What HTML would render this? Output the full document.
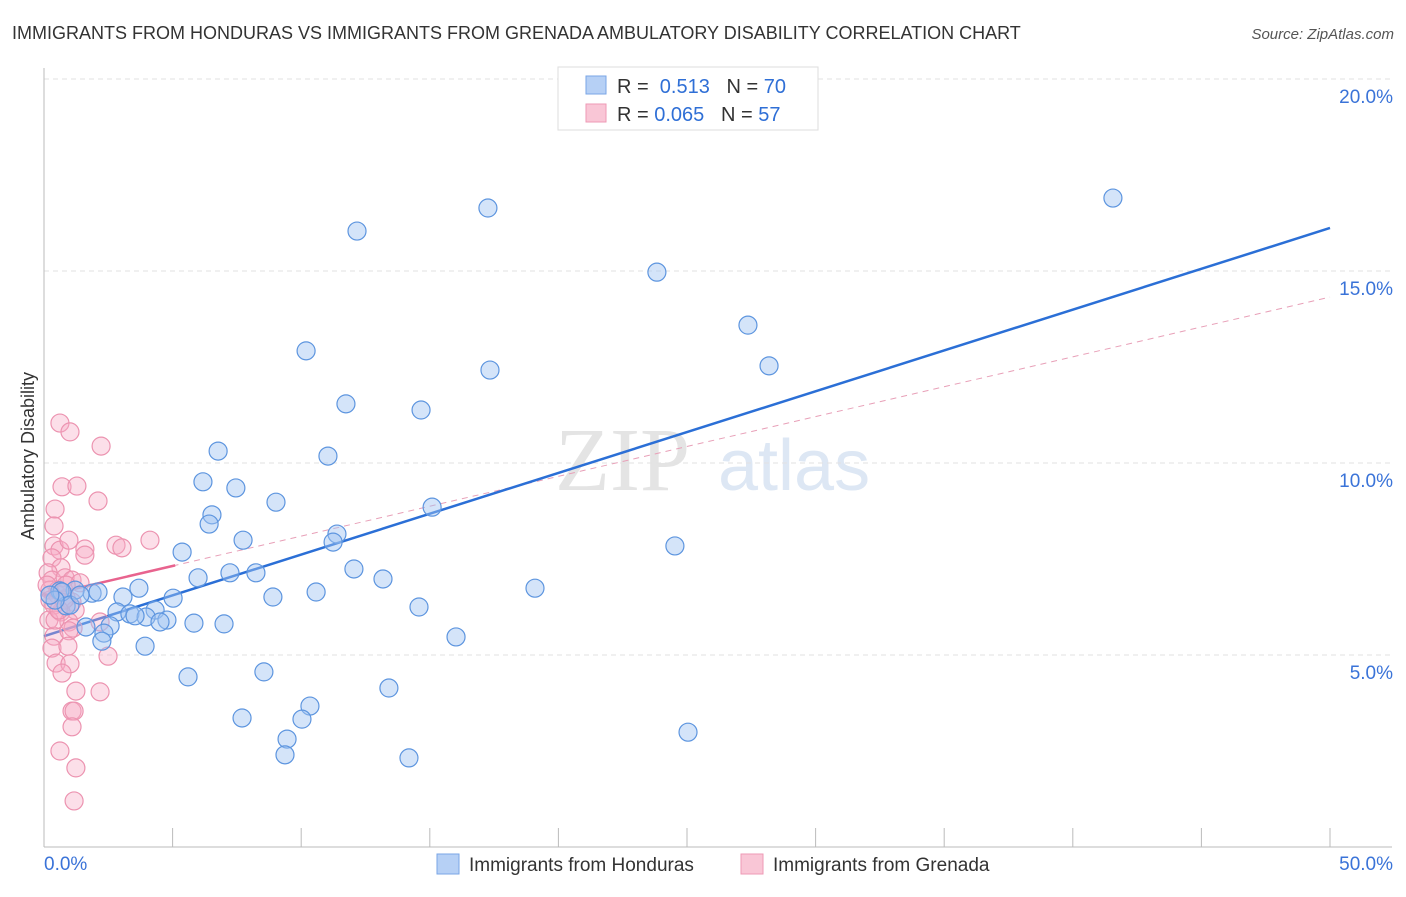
<!DOCTYPE html>
<html><head><meta charset="utf-8"><style>
body{margin:0;background:#fff;font-family:"Liberation Sans",sans-serif}
</style></head><body>
<svg id="chart" width="1406" height="892" xmlns="http://www.w3.org/2000/svg" font-family="Liberation Sans, sans-serif">
<text x="12" y="39" font-size="18" fill="#333">IMMIGRANTS FROM HONDURAS VS IMMIGRANTS FROM GRENADA AMBULATORY DISABILITY CORRELATION CHART</text>
<text x="1394" y="39" font-size="15" fill="#555" font-style="italic" text-anchor="end">Source: ZipAtlas.com</text>
<g><text x="555" y="490" font-size="90" fill="#e4e4e4" font-family="Liberation Serif, serif">ZIP</text><text x="718" y="490" font-size="72" fill="#dde7f4">atlas</text></g>
<g id="grid"></g><g id="axes"></g><g id="trends"></g><g id="pts"></g>
<text transform="translate(34,456) rotate(-90)" font-size="18" fill="#333" text-anchor="middle">Ambulatory Disability</text>
<g>
<rect x="558" y="67" width="260" height="63" fill="#fff" stroke="#ddd"/>
<rect x="586" y="76" width="20" height="18" fill="#b6d0f5" stroke="#7aa6e6"/>
<rect x="586" y="104" width="20" height="18" fill="#f9c6d6" stroke="#ee9ab5"/>
<text x="617" y="93" font-size="20" fill="#333">R = <tspan fill="#2f6fd6">&#160;0.513</tspan>&#160;&#160;&#160;N = <tspan fill="#2f6fd6">70</tspan></text>
<text x="617" y="121" font-size="20" fill="#333">R = <tspan fill="#2f6fd6">0.065</tspan>&#160;&#160;&#160;N = <tspan fill="#2f6fd6">57</tspan></text>
</g>
<g>
<rect x="437" y="854" width="22" height="20" fill="#b6d0f5" stroke="#7aa6e6"/>
<text x="469" y="871" font-size="19" fill="#333">Immigrants from Honduras</text>
<rect x="741" y="854" width="22" height="20" fill="#f9c6d6" stroke="#ee9ab5"/>
<text x="773" y="871" font-size="19" fill="#333">Immigrants from Grenada</text>
</g>
</svg>
<script>
const NS="http://www.w3.org/2000/svg";
const yTicks=[5,10,15,20];
const yTickLabels=["5.0%","10.0%","15.0%","20.0%"];
const xTickLabels=["0.0%","50.0%"];
const hondurasX=[41.56,17.26,12.17,23.83,27.37,10.19,28.19,17.34,11.74,14.66,6.77,11.04,6.18,7.46,9.02,15.09,6.53,6.42,11.39,11.24,7.74,24.53,5.37,12.05,7.23,8.24,5.99,13.18,19.09,3.69,10.58,1.87,2.10,1.21,0.62,8.90,3.07,5.02,14.58,0.86,2.84,4.32,3.34,3.97,3.54,4.78,4.51,5.83,7.00,1.63,2.57,2.33,2.25,16.02,3.93,8.55,5.60,13.41,10.34,7.70,10.03,25.04,9.45,9.37,14.19,0.70,1.01,0.43,1.40,0.23];
const hondurasY=[16.90,16.64,16.04,14.97,13.59,12.92,12.53,12.42,11.54,11.38,10.31,10.18,9.51,9.35,8.98,8.85,8.65,8.41,8.15,7.94,7.99,7.84,7.68,7.24,7.14,7.14,7.01,6.98,6.74,6.74,6.64,6.61,6.64,6.69,6.67,6.51,6.51,6.48,6.25,6.28,6.12,6.17,6.07,5.99,6.02,5.91,5.86,5.83,5.81,5.73,5.76,5.57,5.36,5.47,5.23,4.56,4.43,4.14,3.67,3.36,3.33,2.99,2.81,2.40,2.32,6.64,6.30,6.43,6.56,6.56];
const grenadaX=[0.62,1.01,2.22,0.70,1.28,2.10,0.43,0.39,0.39,0.62,0.97,1.59,2.80,1.59,3.03,4.12,0.31,0.66,0.16,0.31,0.82,1.09,1.40,0.23,0.54,0.86,1.09,1.21,0.39,0.66,0.19,0.97,1.13,2.18,0.39,0.97,0.31,0.93,2.49,0.47,1.01,0.70,1.24,2.18,1.09,1.17,1.09,0.62,1.24,1.17,0.23,0.54,0.78,0.12,0.43,0.86,0.58];
const grenadaY=[11.04,10.81,10.44,9.38,9.40,9.01,8.80,8.36,7.84,7.73,7.99,7.76,7.86,7.60,7.79,7.99,7.53,7.27,7.14,6.95,7.01,6.95,6.88,6.69,6.56,6.48,6.38,6.17,6.30,6.12,5.91,5.86,5.70,5.86,5.49,5.63,5.18,5.23,4.97,4.79,4.77,4.53,4.06,4.04,3.54,3.54,3.13,2.50,2.06,1.20,6.43,6.69,6.43,6.82,5.91,6.82,6.17];
const hondurasTrend=[5.49,16.12];
const grenadaTrend=[6.54,14.32];
const grenadaSolidEnd=[5.1];
const X0=44,X1=1330,Y0=847,PPY=38.4;
const sx=v=>X0+(X1-X0)*v/50, sy=v=>Y0-v*PPY;
function mk(t,a,p){const e=document.createElementNS(NS,t);for(const k in a)e.setAttribute(k,a[k]);document.getElementById(p).appendChild(e);return e;}
yTicks.forEach((t,i)=>{
 const g=mk('line',{x1:44,x2:1392,y1:sy(t),y2:sy(t),stroke:'#e2e2e2','stroke-dasharray':'5,4'},'grid');
 
 
 const l=mk('text',{x:1393,y:sy(t)+24,'font-size':19,fill:'#3a73d8','text-anchor':'end'},'axes');l.textContent=yTickLabels[i];
 
 
});
let a=mk('line',{x1:44,x2:44,y1:68,y2:847,stroke:'#bbb'},'axes');


a=mk('line',{x1:44,x2:1392,y1:847,y2:847,stroke:'#bbb'},'axes');


for(let i=1;i<=10;i++){const t=mk('line',{x1:sx(i*5),x2:sx(i*5),y1:828,y2:847,stroke:'#bbb'},'axes');
 
 }
[0,50].forEach((v,i)=>{const t=mk('text',{x:i?1393:44,y:870,'font-size':19,fill:'#3a73d8','text-anchor':i?'end':'start'},'axes');t.textContent=xTickLabels[i];
 
 });
function pts(xs,ys,fill,stroke,name){xs.forEach((x,i)=>{const c=mk('circle',{cx:sx(x),cy:sy(ys[i]),r:9,fill:fill,stroke:stroke,'stroke-width':1.2},'pts');
 
 });}
pts(grenadaX,grenadaY,'rgba(246,170,196,0.38)','#ec93b0','grenada-point');
pts(hondurasX,hondurasY,'rgba(160,196,242,0.45)','#5d95df','honduras-point');
const gy=x=>grenadaTrend[0]+(grenadaTrend[1]-grenadaTrend[0])*x/50;
let t=mk('line',{x1:sx(0),y1:sy(gy(0)),x2:sx(50),y2:sy(gy(50)),stroke:'#e8a0b8','stroke-width':1,'stroke-dasharray':'6,5'},'trends');


t=mk('line',{x1:sx(0),y1:sy(gy(0)),x2:sx(grenadaSolidEnd[0]),y2:sy(gy(grenadaSolidEnd[0])),stroke:'#e8638e','stroke-width':2.5},'trends');


t=mk('line',{x1:sx(0),y1:sy(hondurasTrend[0]),x2:sx(50),y2:sy(hondurasTrend[1]),stroke:'#2b6fd6','stroke-width':2.5},'trends');


</script>
</body></html>
